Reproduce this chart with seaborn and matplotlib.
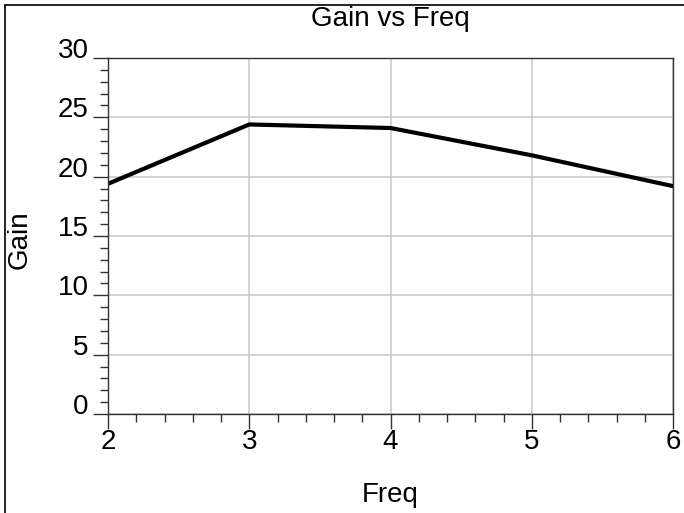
import numpy as np
import pandas as pd
import seaborn as sns
import matplotlib.pyplot as plt
from matplotlib.lines import Line2D
from matplotlib.ticker import MultipleLocator

freq = [2, 3, 4, 5, 6]
gain = [19.4, 24.4, 24.1, 21.8, 19.2]

x_ticks = [2, 3, 4, 5, 6]
y_ticks = [0, 5, 10, 15, 20, 25, 30]

sns.set_style("white")
plt.rcParams['font.family'] = ['Liberation Sans', 'DejaVu Sans']
plt.rcParams['text.color'] = 'black'
plt.rcParams['axes.labelcolor'] = 'black'
plt.rcParams['xtick.color'] = 'black'
plt.rcParams['ytick.color'] = 'black'

df = pd.DataFrame({"Freq": freq, "Gain": gain})

fig = plt.figure(figsize=(6.84, 5.13), dpi=100)
ax = fig.add_axes([108 / 684, 1 - 414 / 513, 565 / 684, 356 / 513])

sns.lineplot(data=df, x="Freq", y="Gain", ax=ax, color="black", linewidth=3.0)

ax.set_xlim(2, 6)
ax.set_ylim(0, 30)
ax.set_xticks(x_ticks)
ax.set_yticks(y_ticks)
ax.xaxis.set_minor_locator(MultipleLocator(0.2))
ax.yaxis.set_minor_locator(MultipleLocator(1))
ax.grid(True, which="major", color="#c8c8c8", linewidth=1.1)
ax.set_axisbelow(True)

for s in ax.spines.values():
    s.set_color("#333333")
    s.set_linewidth(1.0)

fs = 20
ax.tick_params(axis="both", which="both", bottom=True, left=True, top=False, right=False)
ax.tick_params(axis="both", which="major", direction="out", length=11, width=1.0,
               color="#333333", labelsize=fs, labelcolor="black")
ax.tick_params(axis="x", which="major", pad=0)
ax.tick_params(axis="y", which="major", pad=3)
ax.tick_params(axis="both", which="minor", direction="out", length=6, width=1.0,
               color="#333333")
for lab in ax.get_yticklabels():
    lab.set_va("baseline")

ax.set_title("Gain vs Freq", fontsize=fs, pad=23)
ax.set_xlabel("Freq", fontsize=fs)
ax.set_ylabel("Gain", fontsize=fs)
ax.xaxis.set_label_coords(0.5, -0.19)
ax.yaxis.set_label_coords(-0.156, 0.49)
ax.yaxis.label.set_va("center")

# outer frame (left and top edges visible)
fig.add_artist(Line2D([5 / 684, 5 / 684], [0, 1 - 5 / 513], transform=fig.transFigure,
                      color="black", linewidth=1.2))
fig.add_artist(Line2D([5 / 684, 1], [1 - 5 / 513, 1 - 5 / 513], transform=fig.transFigure,
                      color="black", linewidth=1.2))

fig.savefig("out.png", dpi=100)
